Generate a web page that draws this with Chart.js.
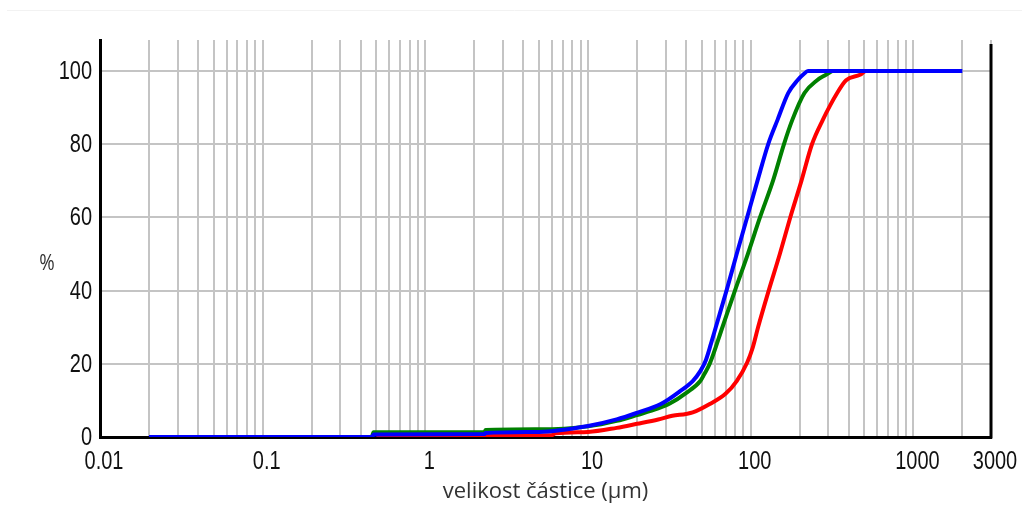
<!DOCTYPE html>
<html>
<head>
<meta charset="utf-8">
<script src="https://cdn.jsdelivr.net/npm/chart.js@4/dist/chart.umd.min.js"></script>
<style>
  html, body { margin: 0; padding: 0; background: #ffffff; }
  #wrap { width: 1022px; height: 519px; position: relative; }
</style>
</head>
<body>
<div id="wrap"><canvas id="chart" width="1022" height="519"></canvas></div>
<script>
"use strict";

// particle size (um) and cumulative %
const blueSize = [0.02, 0.47, 0.48, 2.3, 2.35, 5, 10, 15, 20, 28, 37, 44, 49, 53, 57, 61, 71, 82, 95, 110, 128, 146, 170, 194, 212, 225, 2000];
const bluePct = [0, 0, 0.7, 0.8, 1.1, 1.4, 3, 4.8, 6.6, 9, 12.6, 15.3, 18, 21, 25.5, 30, 40, 50, 60, 70, 80, 86.6, 94, 97.5, 99.2, 100, 100];

const greenSize = [0.47, 0.48, 2.3, 2.35, 5, 10, 15, 20, 27, 32, 40, 49, 52, 56, 67, 80, 96, 114, 137, 160, 180, 214, 256, 290, 316];
const greenPct = [0, 1.3, 1.3, 1.9, 2.1, 2.9, 4.4, 6, 7.8, 9.2, 12, 15.3, 17.3, 20, 30, 40, 50, 60, 70, 80, 86.6, 94, 97.5, 99, 100];

const redSize = [0.5, 2.3, 2.35, 6, 6.3, 10, 15, 20, 27, 33, 40, 44, 56, 70, 82, 95, 103, 111, 129, 151, 175, 205, 238, 277, 340, 386, 470, 510, 690];
const redPct = [0, 0, 0.3, 0.5, 1, 1.4, 2.5, 3.6, 4.8, 5.8, 6.3, 6.7, 9, 11.8, 15.3, 20.3, 24.5, 30, 40, 50, 60, 70, 80, 86.6, 94, 97.5, 99, 100, 100];

const xTickLabels = [0.01, 0.1, 1, 10, 100, 1000, 3000];
const yTickLabels = [0, 20, 40, 60, 80, 100];

const X_MIN = 0.01;
const X_MAX = 3000;

function toPoints(xs, ys) {
  return xs.map((x, i) => ({ x: x, y: ys[i] }));
}

// log grid: 1..9 in every decade up to the end of the axis
function gridValues() {
  const vals = [];
  for (let e = -2; e <= 3; e++) {
    for (let m = 1; m <= 9; m++) {
      const v = Number((m * Math.pow(10, e)).toPrecision(3));
      if (v >= X_MIN && v <= X_MAX) vals.push(v);
    }
  }
  return vals;
}

// the source uses a tall, narrow face: draw text squeezed sideways
function narrowText(ctx, text, x, y, align, size, squeeze, color, family) {
  ctx.save();
  ctx.font = size + "px " + family;
  ctx.fillStyle = color;
  ctx.textAlign = align;
  ctx.textBaseline = "middle";
  ctx.translate(x, y);
  ctx.scale(squeeze, 1);
  ctx.fillText(text, 0, 0);
  ctx.restore();
}

const labels = {
  id: "labels",
  beforeDraw(chart) {
    const ctx = chart.ctx;
    ctx.save();
    ctx.strokeStyle = "#f2f2f2";
    ctx.lineWidth = 1;
    ctx.beginPath();
    ctx.moveTo(7, 10.5);
    ctx.lineTo(1022, 10.5);
    ctx.stroke();
    ctx.restore();
  },
  afterDraw(chart) {
    const ctx = chart.ctx;
    const area = chart.chartArea;
    const xs = chart.scales.x;
    const ys = chart.scales.y;
    const face = "'Liberation Sans', Arial, sans-serif";

    ctx.save();
    ctx.strokeStyle = "#000000";
    ctx.lineWidth = 3;
    ctx.beginPath();
    ctx.moveTo(area.right, area.top + 4);
    ctx.lineTo(area.right, area.bottom + 1.5);
    ctx.stroke();
    ctx.restore();

    yTickLabels.forEach((v) => {
      narrowText(ctx, String(v), area.left - 8, ys.getPixelForValue(v) + 1, "right", 25, 0.8, "#111111", face);
    });
    xTickLabels.forEach((v) => {
      narrowText(ctx, String(v), xs.getPixelForValue(v) + 4, area.bottom + 25, "center", 25, 0.8, "#111111", face);
    });
    narrowText(ctx, "%", 47, 264, "center", 22, 0.85, "#333333", "'Open Sans', sans-serif");
  },
};

const lineStyle = {
  showLine: true,
  pointRadius: 0,
  borderWidth: 4,
  cubicInterpolationMode: "monotone",
  fill: false,
};

new Chart(document.getElementById("chart"), {
  type: "scatter",
  data: {
    datasets: [
      { ...lineStyle, label: "blue", data: toPoints(blueSize, bluePct), borderColor: "#0000ff" },
      { ...lineStyle, label: "green", data: toPoints(greenSize, greenPct), borderColor: "#008000" },
      { ...lineStyle, label: "red", data: toPoints(redSize, redPct), borderColor: "#ff0000" },
    ],
  },
  options: {
    responsive: false,
    animation: false,
    layout: { padding: { top: 40, right: 31, left: 0, bottom: 14 } },
    plugins: {
      legend: { display: false },
      tooltip: { enabled: false },
    },
    scales: {
      x: {
        type: "logarithmic",
        min: X_MIN,
        max: X_MAX,
        afterBuildTicks(scale) {
          scale.ticks = gridValues().map((v) => ({ value: v }));
        },
        afterFit(scale) {
          scale.height = 68;
        },
        ticks: { display: false, autoSkip: false },
        grid: { color: "#c4c4c4", lineWidth: 2, drawTicks: false },
        border: { color: "#000000", width: 3 },
        title: {
          display: true,
          text: "velikost částice (µm)",
          color: "#333333",
          font: { family: "'Open Sans', sans-serif", size: 22 },
          padding: { top: 0, bottom: 0 },
        },
      },
      y: {
        min: 0,
        max: 108.5,
        afterBuildTicks(scale) {
          scale.ticks = yTickLabels.map((v) => ({ value: v }));
        },
        afterFit(scale) {
          scale.width = 100;
        },
        ticks: { display: false },
        grid: { color: "#c4c4c4", lineWidth: 2, drawTicks: false },
        border: { color: "#000000", width: 3 },
      },
    },
  },
  plugins: [labels],
});
</script>
</body>
</html>
